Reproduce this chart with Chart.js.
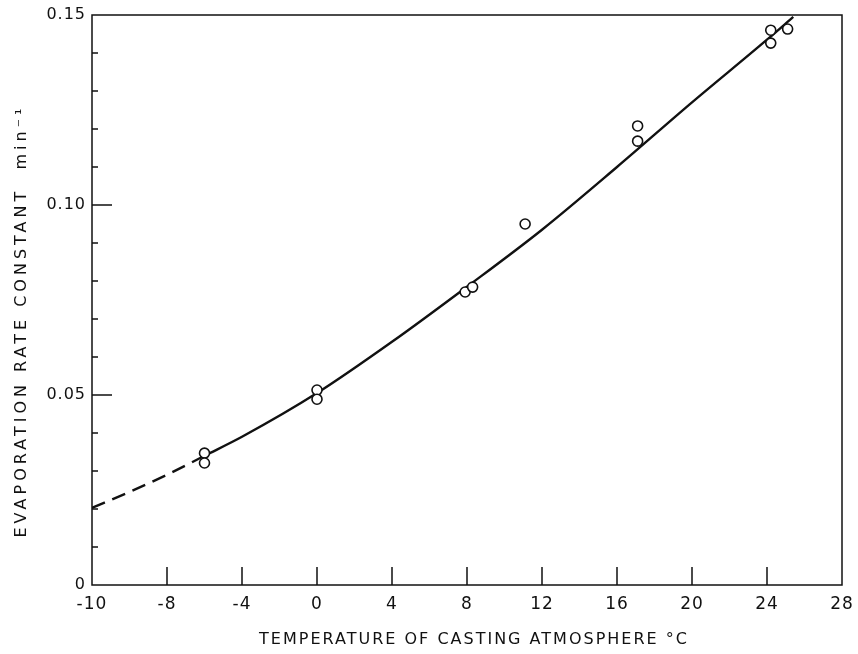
<!DOCTYPE html>
<html>
<head>
<meta charset="utf-8" />
<script src="https://cdn.jsdelivr.net/npm/chart.js@4.4.0/dist/chart.umd.min.js"></script>
<style>
  body { margin: 0; background: #fff; }
  #wrap { width: 858px; height: 654px; }
</style>
</head>
<body>
<div id="wrap"><canvas id="chart"></canvas></div>
<script>
/* ---------- Data ---------- */
// measured evaporation rate constants (min^-1) vs casting temperature (°C)
const measTemp = [-6, -6, 0, 0, 7.9, 8.3, 11.1, 17.1, 17.1, 24.2, 24.2, 25.1];
const measRate = [0.0347, 0.0321, 0.0513, 0.0489, 0.0771, 0.0784, 0.0950, 0.1208, 0.1168, 0.1460, 0.1426, 0.1463];

// smooth curve through the data
const curveTemp = [-6, -4, 0, 4, 8, 12, 16, 20, 24, 25.4];
const curveRate = [0.0340, 0.0390, 0.0505, 0.0640, 0.0785, 0.0935, 0.1100, 0.1270, 0.1435, 0.1495];

// extrapolated (dashed) part
const extrapTemp = [-12, -10, -8, -6];
const extrapRate = [0.0203, 0.0245, 0.0290, 0.0340];

// axes
const xTickValues = [-12, -8, -4, 0, 4, 8, 12, 16, 20, 24, 28];
const xTickLabels = ['-10', '-8', '-4', '0', '4', '8', '12', '16', '20', '24', '28'];
const yTickValues = [0, 0.05, 0.10, 0.15];
const yTickLabels = ['0', '0.05', '0.10', '0.15'];
const yMinorValues = [0.01, 0.02, 0.03, 0.04, 0.06, 0.07, 0.08, 0.09, 0.11, 0.12, 0.13, 0.14];

const xTitle = 'TEMPERATURE OF CASTING ATMOSPHERE °C';
const yTitle = 'EVAPORATION RATE CONSTANT  min⁻¹';

const FONT = "'DejaVu Sans', sans-serif";
const INK = '#111';

const toXY = (xs, ys) => xs.map((x, i) => ({ x: x, y: ys[i] }));

/* ---------- Frame, inward ticks and axis titles ---------- */
const framePlugin = {
  id: 'frame',
  beforeDraw(chart) {
    // slightly spaced lettering for tick labels
    chart.ctx.letterSpacing = '1px';
  },
  afterDatasetsDraw(chart) {
    const { ctx, chartArea: a, scales: { x, y } } = chart;
    ctx.save();
    ctx.strokeStyle = INK;
    ctx.lineWidth = 1.5;
    ctx.strokeRect(a.left, a.top, a.right - a.left, a.bottom - a.top);

    ctx.beginPath();
    xTickValues.forEach(v => {
      const px = x.getPixelForValue(v);
      if (px <= a.left + 1 || px >= a.right - 1) return;
      ctx.moveTo(px, a.bottom);
      ctx.lineTo(px, a.bottom - 18);
    });
    yTickValues.forEach(v => {
      const py = y.getPixelForValue(v);
      if (py <= a.top + 1 || py >= a.bottom - 1) return;
      ctx.moveTo(a.left, py);
      ctx.lineTo(a.left + 20, py);
    });
    yMinorValues.forEach(v => {
      const py = y.getPixelForValue(v);
      ctx.moveTo(a.left, py);
      ctx.lineTo(a.left + 6, py);
    });
    ctx.stroke();

    // axis titles
    ctx.fillStyle = INK;
    ctx.font = '16px ' + FONT;
    ctx.textAlign = 'center';
    ctx.textBaseline = 'middle';
    ctx.letterSpacing = '2px';
    ctx.fillText(xTitle, 474, 640);

    ctx.translate(22, 321);
    ctx.rotate(-Math.PI / 2);
    ctx.letterSpacing = '4px';
    ctx.fillText(yTitle, 0, 0);
    ctx.restore();
  }
};

/* ---------- Chart ---------- */
new Chart(document.getElementById('chart'), {
  type: 'scatter',
  data: {
    datasets: [
      {
        label: 'measured',
        data: toXY(measTemp, measRate),
        pointStyle: 'circle',
        pointRadius: 5,
        pointBorderWidth: 1.6,
        pointBorderColor: INK,
        pointBackgroundColor: '#fff',
        showLine: false
      },
      {
        label: 'curve',
        data: toXY(curveTemp, curveRate),
        showLine: true,
        borderColor: INK,
        borderWidth: 2.4,
        pointRadius: 0,
        cubicInterpolationMode: 'monotone'
      },
      {
        label: 'extrapolated',
        data: toXY(extrapTemp, extrapRate),
        showLine: true,
        borderColor: INK,
        borderWidth: 2.4,
        borderDash: [14, 8],
        pointRadius: 0,
        cubicInterpolationMode: 'monotone'
      }
    ]
  },
  options: {
    responsive: true,
    maintainAspectRatio: false,
    animation: false,
    layout: { padding: { left: 0, top: 15, right: 16, bottom: 0 } },
    plugins: { legend: { display: false }, tooltip: { enabled: false } },
    scales: {
      x: {
        type: 'linear',
        min: -12, max: 28,
        afterBuildTicks: s => { s.ticks = xTickValues.map(v => ({ value: v })); },
        afterFit: s => { s.height = 69; s.paddingLeft = 0; s.paddingRight = 0; },
        grid: { display: false, drawTicks: false },
        border: { display: false },
        ticks: {
          color: INK,
          font: { family: FONT, size: 17 },
          padding: 9,
          maxRotation: 0,
          callback: (v, i) => xTickLabels[i]
        }
      },
      y: {
        type: 'linear',
        min: 0, max: 0.15,
        afterBuildTicks: s => { s.ticks = yTickValues.map(v => ({ value: v })); },
        afterFit: s => { s.width = 92; s.paddingTop = 0; s.paddingBottom = 0; },
        grid: { display: false, drawTicks: false },
        border: { display: false },
        ticks: {
          color: INK,
          font: { family: FONT, size: 16 },
          padding: 6,
          callback: (v, i) => yTickLabels[i]
        }
      }
    }
  },
  plugins: [framePlugin]
});
</script>
</body>
</html>
